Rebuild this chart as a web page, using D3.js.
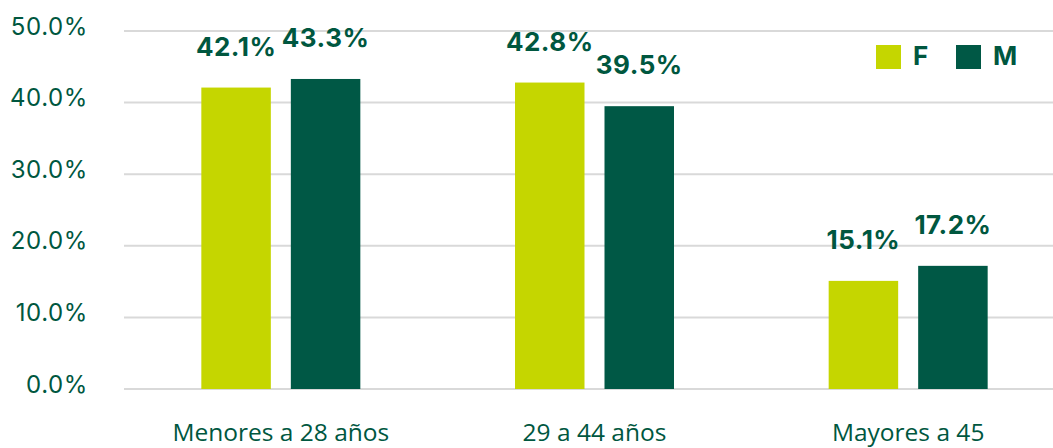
<!DOCTYPE html>
<html>
<head>
<meta charset="utf-8">
<script src="https://cdn.jsdelivr.net/npm/d3@7"></script>
<style>
  body { margin: 0; background: #fff; }
  svg { display: block; }
</style>
</head>
<body>
<script>
const categories = ["Menores a 28 años", "29 a 44 años", "Mayores a 45"];
const series = ["F", "M"];
const valuesF = [42.1, 42.8, 15.1];
const valuesM = [43.3, 39.5, 17.2];
const yTicks = [0, 10, 20, 30, 40, 50];

const colors = { F: "#c5d600", M: "#005845" };
const textColor = "#00573f";

const w = 1053, h = 448;
const plotLeft = 124, plotRight = 1065, plotTop = 31, plotBottom = 389;

const data = categories.map((c, i) => ({ cat: c, F: valuesF[i], M: valuesM[i] }));

const svg = d3.select("body").append("svg")
  .attr("width", w)
  .attr("height", h);

const x0 = d3.scaleBand().domain(categories).range([plotLeft, plotRight]);
const groupW = 159;
const x1 = d3.scaleBand().domain(series).range([0, groupW]).paddingInner(0.2235);
const y = d3.scaleLinear().domain([0, 50]).range([plotBottom, plotTop]);

// grid
svg.append("g")
  .selectAll("line")
  .data(yTicks)
  .enter()
  .append("line")
  .attr("x1", plotLeft)
  .attr("x2", w)
  .attr("y1", d => y(d))
  .attr("y2", d => y(d))
  .attr("stroke", "#d9d9d9")
  .attr("stroke-width", 2);

// y labels
svg.append("g")
  .selectAll("text")
  .data(yTicks)
  .enter()
  .append("text")
  .attr("x", 88)
  .attr("y", d => y(d) - 3)
  .attr("text-anchor", "end")
  .attr("dominant-baseline", "middle")
  .attr("fill", textColor)
  .style("font-family", "Inter, sans-serif")
  .style("font-size", "24px")
  .style("letter-spacing", "0.6px")
  .text(d => d.toFixed(1) + "%");

// bars
const groups = svg.append("g")
  .selectAll("g")
  .data(data)
  .enter()
  .append("g")
  .attr("transform", d => "translate(" + (x0(d.cat) + (x0.bandwidth() - groupW) / 2) + ",0)");

groups.selectAll("rect")
  .data(d => series.map(s => ({ s: s, v: d[s] })))
  .enter()
  .append("rect")
  .attr("x", d => x1(d.s))
  .attr("y", d => y(d.v))
  .attr("width", x1.bandwidth())
  .attr("height", d => y(0) - y(d.v))
  .attr("fill", d => colors[d.s]);

groups.selectAll("text")
  .data(d => series.map(s => ({ s: s, v: d[s] })))
  .enter()
  .append("text")
  .attr("x", d => x1(d.s) + x1.bandwidth() / 2)
  .attr("y", d => y(d.v) - 32)
  .attr("text-anchor", "middle")
  .attr("fill", textColor)
  .style("font-family", "Inter, sans-serif")
  .style("font-weight", "bold")
  .style("font-size", "26px")
  .style("letter-spacing", "0.5px")
  .text(d => d.v.toFixed(1) + "%");

// x labels
svg.append("g")
  .selectAll("text")
  .data(categories)
  .enter()
  .append("text")
  .attr("x", d => x0(d) + x0.bandwidth() / 2)
  .attr("y", 441)
  .attr("text-anchor", "middle")
  .attr("fill", textColor)
  .style("font-family", "'Open Sans', sans-serif")
  .style("font-size", "24.5px")
  .text(d => d);

// legend
const legend = svg.append("g")
  .selectAll("g")
  .data(series)
  .enter()
  .append("g")
  .attr("transform", (d, i) => "translate(" + (876 + i * 80) + ",45)");

legend.append("rect")
  .attr("width", 25)
  .attr("height", 24)
  .attr("fill", d => colors[d]);

legend.append("text")
  .attr("x", 37)
  .attr("y", 19.5)
  .attr("fill", textColor)
  .style("font-family", "Inter, sans-serif")
  .style("font-weight", "bold")
  .style("font-size", "26px")
  .text(d => d);
</script>
</body>
</html>
